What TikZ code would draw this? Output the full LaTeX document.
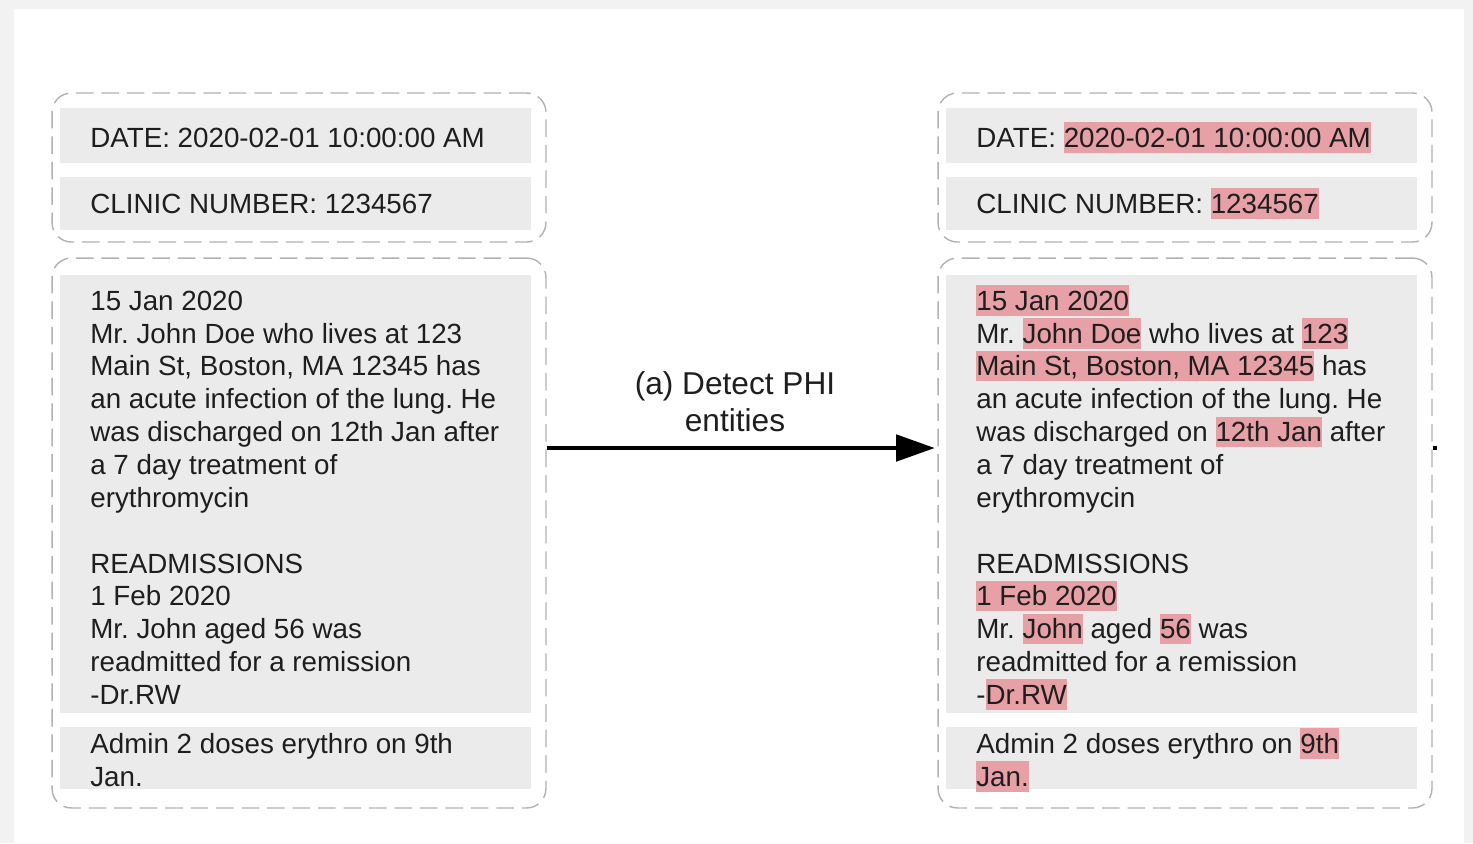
\documentclass[tikz,border=0pt]{standalone}
\usepackage{fontspec}
\setmainfont{Liberation Sans}
\usetikzlibrary{arrows.meta}
\definecolor{pagegray}{RGB}{242,242,242}
\definecolor{rowgray}{RGB}{235,235,235}
\definecolor{dashgray}{RGB}{178,178,178}
\definecolor{phired}{RGB}{231,160,166}
\definecolor{inkgray}{RGB}{30,30,30}
\setlength{\fboxsep}{0pt}
% highlighted PHI entity
\newcommand{\phimark}[1]{\colorbox{phired}{\rule[-0.2em]{0pt}{1.1em}#1}}
\newcommand{\topline}{\rule{0pt}{15pt}}
\begin{document}
\frenchspacing
\begin{tikzpicture}[x=0.02cm, y=-0.02cm,
  groupbox/.style={draw=dashgray, line width=0.8pt, dash pattern=on 10pt off 4.5pt,
    rounded corners=11pt, minimum width=9.88cm, inner sep=0},
  rowbox/.style={fill=rowgray, anchor=north west, minimum width=9.42cm, inner sep=0},
  recordtext/.style={anchor=north west, align=left, inner sep=0, text=inkgray,
    font=\fontsize{15.8}{18.7}\selectfont},
  detectlabel/.style={align=center, inner sep=0, text=inkgray,
    font=\fontsize{18}{21}\selectfont},
  flow/.style={line width=2.3pt, -{Triangle[length=22pt,width=15pt]}, shorten >=1.5pt}]
% Page
\fill[pagegray] (0,0) rectangle (1473,843);
\fill[white] (14,9) rectangle (1464,843);
\useasboundingbox (0,0) rectangle (1473,843);
% Original record
\node[groupbox, minimum height=2.98cm] (lhead) at (299,167.5) {};
\node[groupbox, minimum height=11cm] (lbody) at (299,533) {};
\node[rowbox, minimum height=1.1cm] (ldate) at (60,108) {};
\node[rowbox, minimum height=1.06cm] (lclinic) at (60,177) {};
\node[rowbox, minimum height=8.76cm] (lnote) at (60,275) {};
\node[rowbox, minimum height=1.24cm] (ladmin) at (60,727) {};
\node[recordtext] (ldatetxt) at (90,120.5) {\topline DATE: 2020-02-01 10:00:00 AM};
\node[recordtext] (lclinictxt) at (90,186.5) {\topline CLINIC NUMBER: 1234567};
\node[recordtext] (lnotetxt) at (90,283.5) {\topline 15 Jan 2020\\
  Mr. John Doe who lives at 123\\
  Main St, Boston, MA 12345 has\\
  an acute infection of the lung. He\\
  was discharged on 12th Jan after\\
  a 7 day treatment of\\
  erythromycin\\[18.7pt]
  READMISSIONS\\
  1 Feb 2020\\
  Mr. John aged 56 was\\
  readmitted for a remission\\
  -Dr.RW};
\node[recordtext] (ladmintxt) at (90,726.5) {\topline Admin 2 doses erythro on 9th\\
  Jan.};
% Record with detected PHI
\node[groupbox, minimum height=2.98cm] (rhead) at (1185,167.5) {};
\node[groupbox, minimum height=11cm] (rbody) at (1185,533) {};
\node[rowbox, minimum height=1.1cm] (rdate) at (946,108) {};
\node[rowbox, minimum height=1.06cm] (rclinic) at (946,177) {};
\node[rowbox, minimum height=8.76cm] (rnote) at (946,275) {};
\node[rowbox, minimum height=1.24cm] (radmin) at (946,727) {};
\node[recordtext] (rdatetxt) at (976,120.5) {\topline DATE: \phimark{2020-02-01 10:00:00 AM}};
\node[recordtext] (rclinictxt) at (976,186.5) {\topline CLINIC NUMBER: \phimark{1234567}};
\node[recordtext] (rnotetxt) at (976,283.5) {\topline\phimark{15 Jan 2020}\\
  Mr. \phimark{John Doe} who lives at \phimark{123}\\
  \phimark{Main St, Boston, MA 12345} has\\
  an acute infection of the lung. He\\
  was discharged on \phimark{12th Jan} after\\
  a 7 day treatment of\\
  erythromycin\\[18.7pt]
  READMISSIONS\\
  \phimark{1 Feb 2020}\\
  Mr. \phimark{John} aged \phimark{56} was\\
  readmitted for a remission\\
  -\phimark{Dr.RW}};
\node[recordtext] (radmintxt) at (976,726.5) {\topline Admin 2 doses erythro on \phimark{9th}\\
  \phimark{Jan.}};
% Detection step
\coordinate (flowy) at (0,448);
\draw[flow] (lbody.east |- flowy) -- (rbody.west |- flowy);
\node[detectlabel, anchor=south] (detect) at (735,432) {(a) Detect PHI\\entities};
\draw[line width=2.3pt] (rbody.east |- flowy) -- ++(4,0);
\end{tikzpicture}
\end{document}
